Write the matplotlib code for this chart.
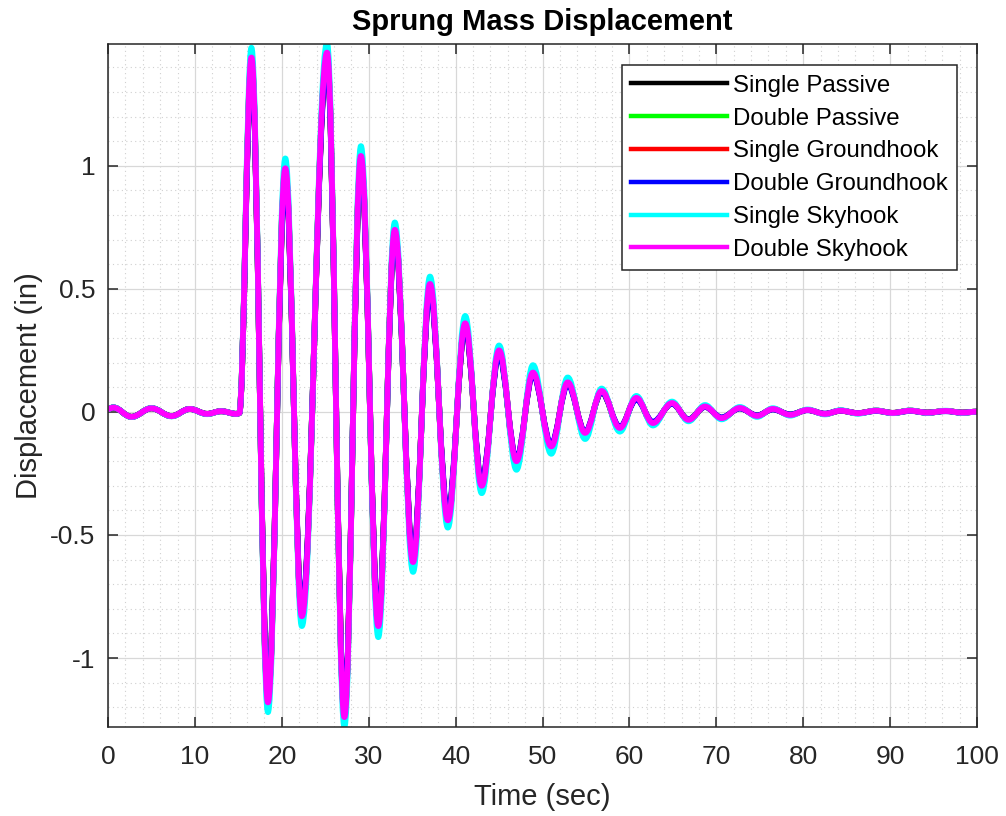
import matplotlib
matplotlib.use("Agg")
import matplotlib.pyplot as plt
from matplotlib.path import Path
from matplotlib.patches import PathPatch
from matplotlib.lines import Line2D
from matplotlib.ticker import MultipleLocator, FormatStrFormatter

plt.rcParams['font.family'] = ['Liberation Sans', 'DejaVu Sans']

# times of the turning points (sec), shared by all runs
t_ext = [0, 0.6, 2.7, 5.0, 7.3, 9.4, 11.4, 13.0, 14.8, 15.1,
         16.5, 18.4, 20.4, 22.3, 25.2, 27.2, 29.1, 31.1, 33.0, 35.1,
         37.05, 39.1, 41.1, 43.0, 45.0, 47.0, 48.9, 51.0, 52.9, 54.9,
         56.8, 58.9, 60.8, 62.7, 64.9, 66.8, 68.7, 70.6, 72.7, 74.7,
         76.5, 78.5, 80.5, 82.5, 84.3, 86.3, 88.4, 90.3, 92.3, 94.3,
         96.4, 98.3, 100]

# displacement at those points (in)
single_passive = [0.012, 0.018, -0.020, 0.015, -0.017, 0.012, -0.008, 0.003, -0.008, -0.005,
                  1.42, -1.16, 0.97, -0.82, 1.44, -1.22, 1.02, -0.86, 0.73, -0.60,
                  0.51, -0.43, 0.35, -0.29, 0.24, -0.20, 0.16, -0.14, 0.12, -0.085,
                  0.08, -0.065, 0.055, -0.045, 0.035, -0.031, 0.021, -0.024, 0.015, -0.015,
                  0.011, -0.011, 0.008, -0.008, 0.005, -0.005, 0.005, -0.004, 0.005, -0.003,
                  0.004, -0.003, 0.001]
double_passive = [0.012, 0.018, -0.020, 0.015, -0.017, 0.012, -0.008, 0.003, -0.008, -0.005,
                  1.43, -1.17, 0.98, -0.82, 1.45, -1.23, 1.03, -0.86, 0.73, -0.60,
                  0.51, -0.43, 0.35, -0.29, 0.24, -0.20, 0.16, -0.14, 0.12, -0.085,
                  0.083, -0.065, 0.056, -0.045, 0.036, -0.031, 0.022, -0.024, 0.016, -0.015,
                  0.012, -0.011, 0.008, -0.008, 0.005, -0.005, 0.005, -0.004, 0.005, -0.003,
                  0.004, -0.003, 0.001]
single_groundhook = [0.012, 0.018, -0.020, 0.015, -0.017, 0.012, -0.008, 0.003, -0.008, -0.005,
                     1.42, -1.16, 0.97, -0.82, 1.44, -1.22, 1.02, -0.86, 0.73, -0.60,
                     0.51, -0.43, 0.35, -0.30, 0.25, -0.21, 0.16, -0.14, 0.12, -0.09,
                     0.085, -0.068, 0.057, -0.047, 0.036, -0.033, 0.022, -0.025, 0.016, -0.016,
                     0.012, -0.012, 0.008, -0.008, 0.005, -0.005, 0.005, -0.004, 0.005, -0.003,
                     0.004, -0.003, 0.001]
double_groundhook = [0.012, 0.018, -0.020, 0.015, -0.017, 0.012, -0.008, 0.003, -0.008, -0.005,
                     1.40, -1.14, 0.95, -0.80, 1.42, -1.20, 1.00, -0.84, 0.71, -0.58,
                     0.49, -0.41, 0.34, -0.28, 0.23, -0.19, 0.15, -0.13, 0.11, -0.08,
                     0.08, -0.06, 0.05, -0.04, 0.033, -0.03, 0.02, -0.022, 0.014, -0.014,
                     0.01, -0.01, 0.007, -0.007, 0.005, -0.005, 0.004, -0.004, 0.004, -0.003,
                     0.003, -0.003, 0.001]
single_skyhook = [0.012, 0.019, -0.021, 0.016, -0.018, 0.012, -0.009, 0.003, -0.008, -0.005,
                  1.48, -1.22, 1.03, -0.87, 1.50, -1.28, 1.08, -0.915, 0.77, -0.65,
                  0.55, -0.47, 0.39, -0.33, 0.27, -0.235, 0.19, -0.17, 0.14, -0.11,
                  0.095, -0.08, 0.065, -0.055, 0.042, -0.038, 0.028, -0.03, 0.02, -0.02,
                  0.015, -0.015, 0.01, -0.01, 0.007, -0.007, 0.006, -0.005, 0.006, -0.004,
                  0.005, -0.004, 0.001]
double_skyhook = [0.012, 0.018, -0.020, 0.015, -0.017, 0.012, -0.008, 0.003, -0.008, -0.005,
                  1.44, -1.18, 0.99, -0.83, 1.46, -1.24, 1.04, -0.87, 0.74, -0.61,
                  0.52, -0.44, 0.36, -0.30, 0.25, -0.20, 0.16, -0.14, 0.12, -0.085,
                  0.085, -0.065, 0.057, -0.045, 0.036, -0.032, 0.022, -0.025, 0.016, -0.016,
                  0.012, -0.012, 0.008, -0.008, 0.005, -0.005, 0.005, -0.004, 0.005, -0.003,
                  0.004, -0.003, 0.001]

labels = ['Single Passive', 'Double Passive', 'Single Groundhook',
          'Double Groundhook', 'Single Skyhook', 'Double Skyhook']
colors = ['#000000', '#00ff00', '#ff0000', '#0000ff', '#00ffff', '#ff00ff']
series = [single_passive, double_passive, single_groundhook,
          double_groundhook, single_skyhook, double_skyhook]


def turning_point_path(t, y, k=0.364):
    # curve through the turning points, flat at each one
    verts = [(t[0], y[0])]
    codes = [Path.MOVETO]
    for i in range(len(t) - 1):
        dt = t[i + 1] - t[i]
        verts += [(t[i] + k * dt, y[i]), (t[i + 1] - k * dt, y[i + 1]), (t[i + 1], y[i + 1])]
        codes += [Path.CURVE4] * 3
    return Path(verts, codes)


fig = plt.figure(figsize=(10.06, 8.16), dpi=100)
ax = fig.add_axes([0.1074, 0.1091, 0.8638, 0.8370])

handles = []
for y, c, lab in zip(series, colors, labels):
    ax.add_patch(PathPatch(turning_point_path(t_ext, y), facecolor='none', edgecolor=c,
                           lw=4.2, capstyle='round', joinstyle='round'))
    handles.append(Line2D([], [], color=c, lw=3.2, label=lab))

ax.set_xlim(0, 100)
ax.set_ylim(-1.28, 1.495)
ax.xaxis.set_major_locator(MultipleLocator(10))
ax.xaxis.set_minor_locator(MultipleLocator(2))
ax.yaxis.set_major_locator(MultipleLocator(0.5))
ax.yaxis.set_minor_locator(MultipleLocator(0.1))
ax.yaxis.set_major_formatter(FormatStrFormatter('%g'))

ax.grid(which='major', color='#d8d8d8', lw=0.9, ls='-')
ax.grid(which='minor', color='#d0d0d0', lw=0.8, ls=(0, (1, 3)))
ax.set_axisbelow(True)

ax.tick_params(which='both', direction='in', top=True, right=True,
               colors='#262626', labelsize=19)
ax.tick_params(axis='x', which='major', pad=13)
ax.tick_params(axis='y', which='major', pad=9)
ax.tick_params(which='major', length=7, width=1.1)
ax.tick_params(which='minor', length=0)
for sp in ax.spines.values():
    sp.set_color('#262626')
    sp.set_linewidth(1.1)

ax.set_xlabel('Time (sec)', fontsize=21, color='#262626', labelpad=10)
ax.set_ylabel('Displacement (in)', fontsize=21, color='#262626', labelpad=5)
ax.set_title('Sprung Mass Displacement', fontsize=21, fontweight='bold', pad=10)

leg = ax.legend(handles=handles, loc='upper right', bbox_to_anchor=(0.977, 0.969), fontsize=17.3,
                frameon=True, fancybox=False, framealpha=1, edgecolor='#262626',
                handlelength=4.0, handletextpad=0.22, labelspacing=0.45,
                borderpad=0.4, borderaxespad=0)
leg.get_frame().set_linewidth(1.1)

fig.savefig('out.png', dpi=100)
